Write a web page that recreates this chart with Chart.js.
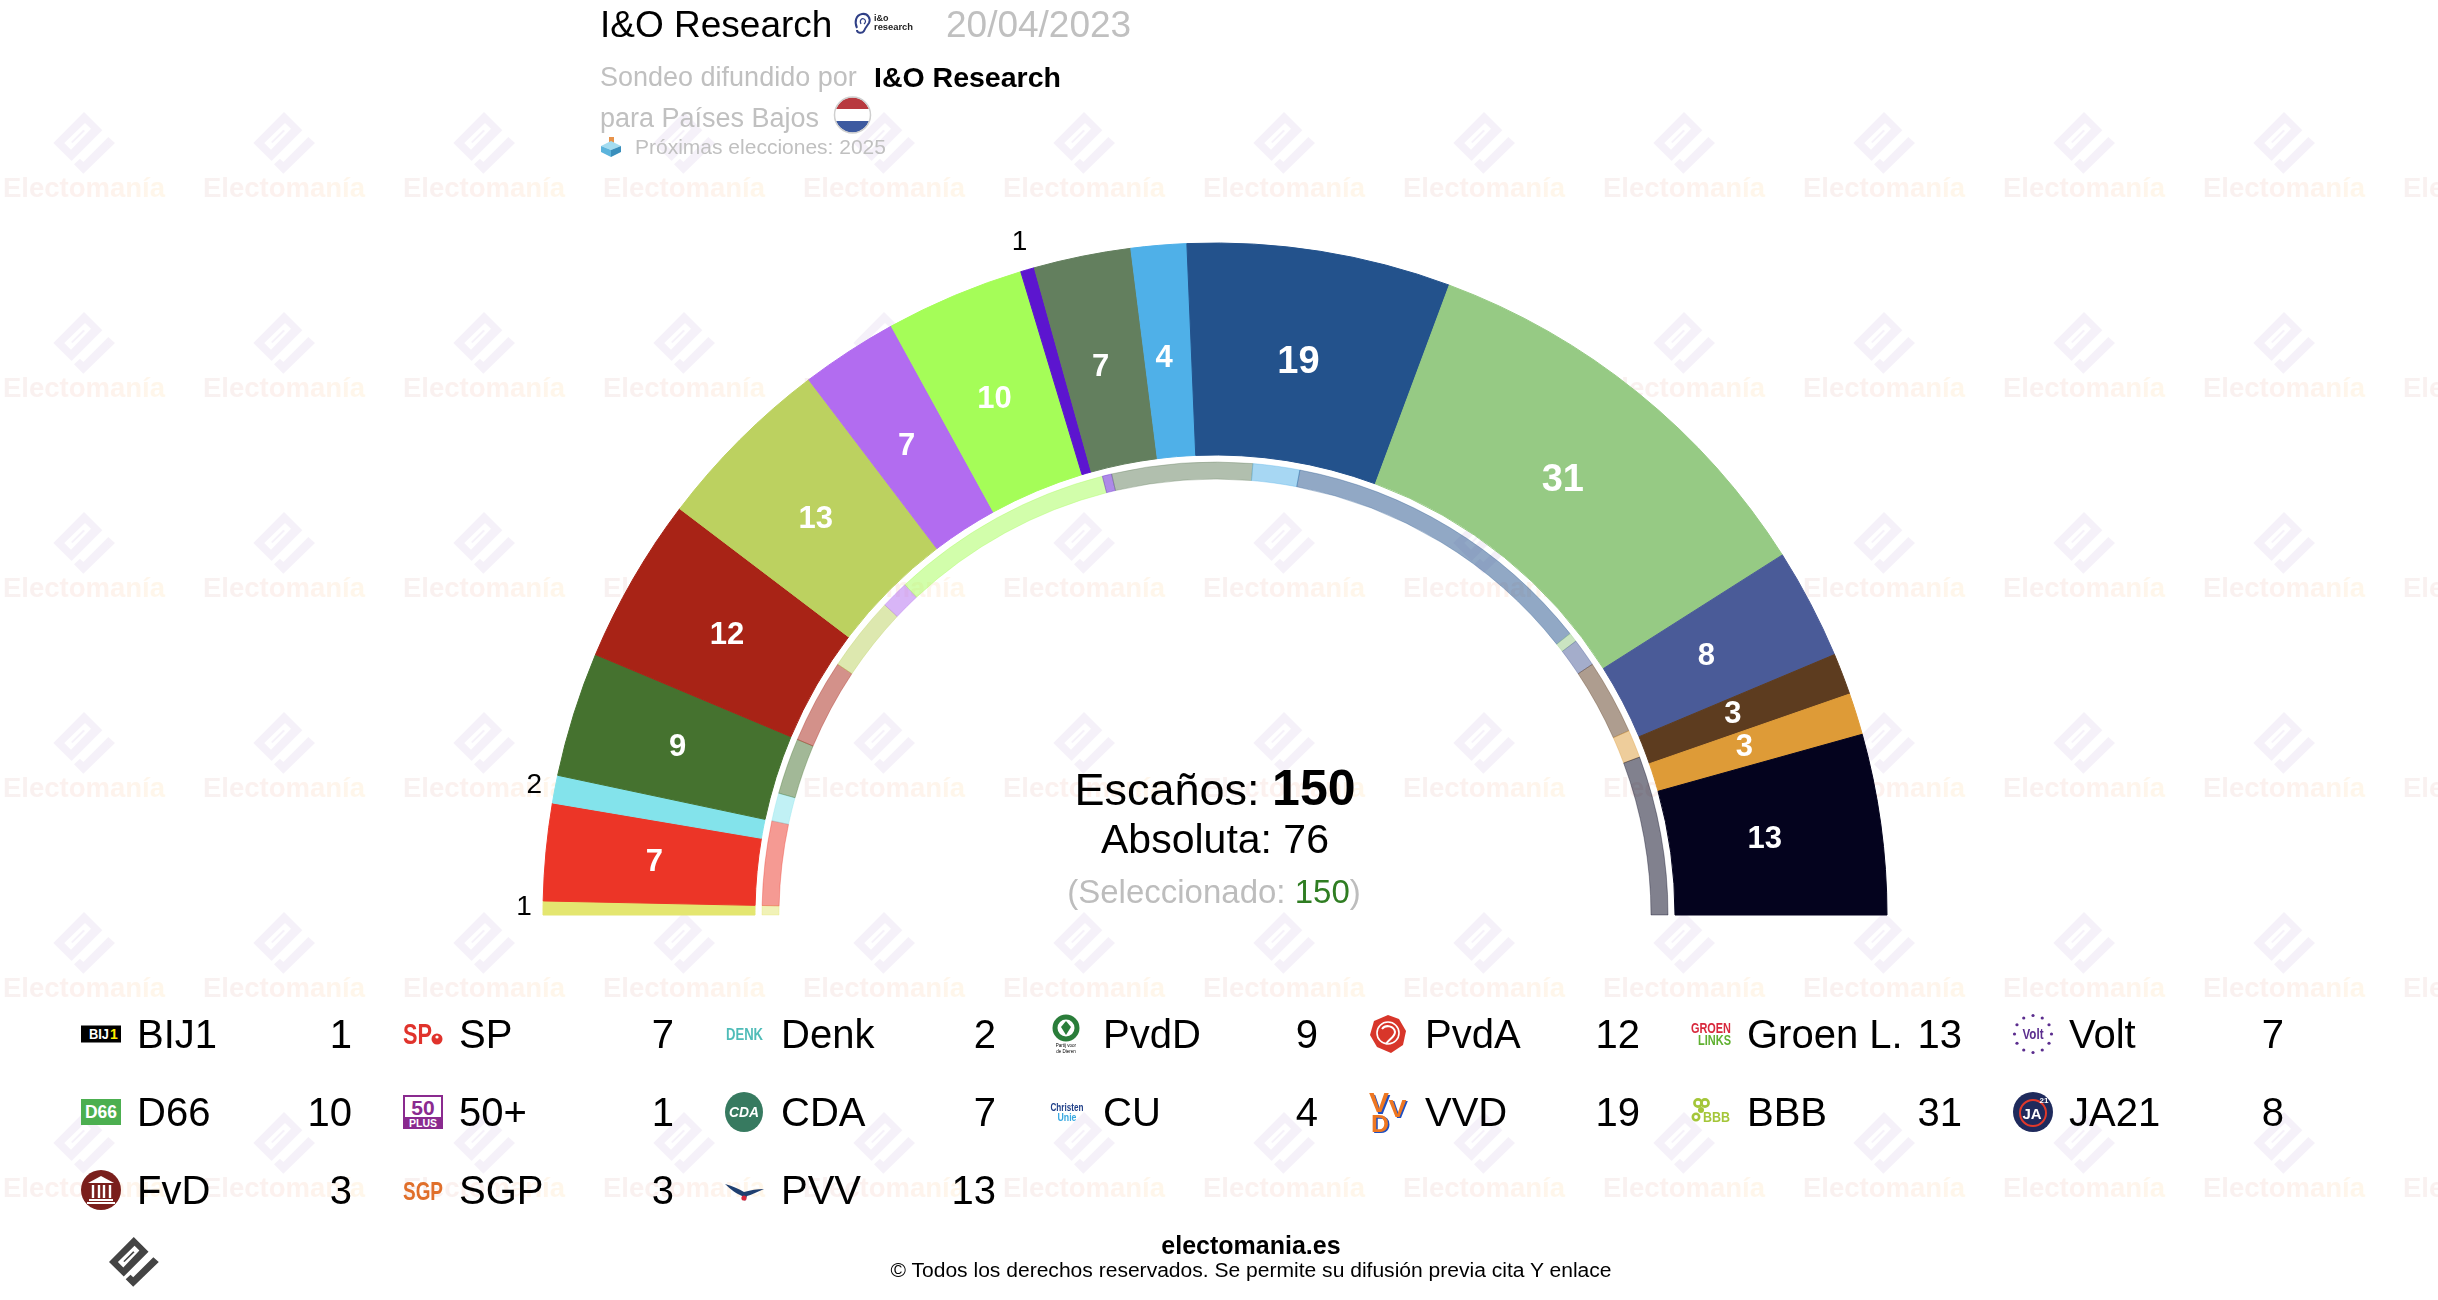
<!DOCTYPE html>
<html>
<head>
<meta charset="utf-8">
<title>I&amp;O Research 20/04/2023</title>
<script src="https://cdn.jsdelivr.net/npm/chart.js@4"></script>
<style>
    html, body { margin: 0; padding: 0; background: #fff; }
    body { position: relative; width: 2438px; height: 1300px; overflow: hidden; font-family: "Liberation Sans", Arial, sans-serif; }
    canvas { position: absolute; left: 0; top: 0; }
    .txt { position: absolute; white-space: nowrap; line-height: 1; color: #000; }
    .logo { position: absolute; overflow: visible; }
</style>
</head>
<body>
<canvas id="myChart" width="2438" height="1300"></canvas>
<div id="overlay"></div>
<script>
const parties = ['BIJ1', 'SP', 'Denk', 'PvdD', 'PvdA', 'Groen L.', 'Volt', 'D66', '50+', 'CDA', 'CU', 'VVD', 'BBB', 'JA21', 'FvD', 'SGP', 'PVV'];
const seats = [1, 7, 2, 9, 12, 13, 7, 10, 1, 7, 4, 19, 31, 8, 3, 3, 13];
const previousSeats = [1, 9, 3, 6, 9, 8, 3, 24, 1, 15, 5, 34, 1, 3, 8, 3, 17];
const partyColors = ['#e4e670', '#ec3527', '#83e3eb', '#45722f', '#a82316', '#bcd160', '#b26cf0', '#a5fd58', '#5c15cf', '#637f5e', '#4fb0e8', '#23528c', '#96ca84', '#4a5b98', '#5d3c1f', '#de9b37', '#04031e'];

const totalSeats = 150;
const majority = 76;
const selected = 150;

function faded(hex, alpha) {
    const n = parseInt(hex.slice(1), 16);
    return 'rgba(' + (n >> 16) + ',' + ((n >> 8) & 255) + ',' + (n & 255) + ',' + alpha + ')';
}

// electomania logo, drawn 62px wide
const logoPath = new Path2D(
    'M30.7 0L49 18.3L18.3 49L0 31ZM31.7 11L11 31L17.7 37.7L37.7 16.7Z' +
    'M30 17.7L31.7 19L19.3 31L17.7 30Z' +
    'M55 25L61.7 31L30 61.7L20.7 52.3L26.7 46.7L30 50Z');

const watermark = {
    id: 'watermark',
    beforeDraw(chart) {
        const c = chart.ctx;
        c.save();
        for (let row = 0; row < 6; row++) {
            for (let col = 0; col < 13; col++) {
                const x = 3 + col * 200;
                const y = 197 + row * 200;
                let g = c.createLinearGradient(x + 50, 0, x + 112, 0);
                g.addColorStop(0, '#f5f1f9');
                g.addColorStop(1, '#faf5ef');
                c.save();
                c.translate(x + 50.3, y - 85);
                c.fillStyle = g;
                c.fill(logoPath, 'evenodd');
                c.restore();
                g = c.createLinearGradient(x, 0, x + 162, 0);
                g.addColorStop(0, '#f8f1f1');
                g.addColorStop(0.5, '#fdf1ee');
                g.addColorStop(1, '#fff7ea');
                c.fillStyle = g;
                c.font = 'bold 27.5px "Liberation Sans"';
                c.fillText('Electomanía', x, y);
            }
        }
        c.restore();
    },
    afterDraw(chart) {
        const c = chart.ctx;
        c.save();
        c.translate(109, 1237);
        c.scale(50 / 62, 50 / 62);
        c.fillStyle = '#444444';
        c.fill(logoPath, 'evenodd');
        c.restore();
    }
};

const seatLabels = {
    id: 'seatLabels',
    afterDatasetsDraw(chart) {
        const c = chart.ctx;
        const arcs = chart.getDatasetMeta(0).data;
        c.save();
        c.textAlign = 'center';
        c.textBaseline = 'middle';
        arcs.forEach(function(arc, i) {
            const v = seats[i];
            const mid = (arc.startAngle + arc.endAngle) / 2;
            if (v <= 2) {
                const r = arc.outerRadius + 19 + 10 * Math.abs(Math.sin(mid));
                c.font = '28px "Liberation Sans"';
                c.fillStyle = '#000';
                c.fillText(String(v), arc.x + Math.cos(mid) * r, arc.y + Math.sin(mid) * r);
            } else {
                const r = (arc.innerRadius + arc.outerRadius) / 2 - 7;
                c.font = 'bold ' + (v >= 15 ? 38 : 31) + 'px "Liberation Sans"';
                c.fillStyle = '#fff';
                c.fillText(String(v), arc.x + Math.cos(mid) * r - 4, arc.y + Math.sin(mid) * r);
            }
        });
        c.restore();
    }
};

new Chart(document.getElementById('myChart').getContext('2d'), {
    type: 'doughnut',
    data: {
        labels: parties,
        datasets: [{
            data: seats,
            weight: 212,
            backgroundColor: partyColors,
            borderColor: partyColors,
            borderWidth: 1
        }, {
            data: previousSeats,
            weight: 7,
            backgroundColor: 'rgba(0,0,0,0)',
            borderWidth: 0
        }, {
            data: previousSeats,
            weight: 17,
            backgroundColor: partyColors.map(function(col) { return faded(col, 0.5); }),
            borderColor: partyColors.map(function(col) { return faded(col, 0.35); }),
            borderWidth: 1
        }]
    },
    options: {
        responsive: false,
        animation: false,
        rotation: -90,
        circumference: 180,
        cutout: '64.881%',
        layout: { padding: { left: 542.5, right: 550.5, top: 242.5, bottom: 384.5 } },
        plugins: { legend: { display: false }, tooltip: { enabled: false } }
    },
    plugins: [watermark, seatLabels]
});

// html text and logos on top of the canvas
const overlay = document.getElementById('overlay');

function addText(html, x, baseline, size, extra) {
    const el = document.createElement('div');
    el.className = 'txt';
    el.innerHTML = html;
    el.style.top = (baseline - size * 0.8465) + 'px';
    el.style.fontSize = size + 'px';
    if (extra && extra.right !== undefined) el.style.right = (2438 - extra.right) + 'px';
    else if (extra && extra.center) { el.style.left = x + 'px'; el.style.transform = 'translateX(-50%)'; }
    else el.style.left = x + 'px';
    if (extra && extra.color) el.style.color = extra.color;
    if (extra && extra.bold) el.style.fontWeight = 'bold';
    overlay.appendChild(el);
    return el;
}

function addSvg(inner, x, y, w, h) {
    const box = document.createElement('div');
    box.innerHTML = '<svg class="logo" xmlns="http://www.w3.org/2000/svg" width="' + w + '" height="' + h + '" viewBox="0 0 ' + w + ' ' + h +
        '" style="left:' + x + 'px;top:' + y + 'px" font-family="Liberation Sans" font-weight="bold">' + inner + '</svg>';
    overlay.appendChild(box);
}

function voltStars() {
    let s = '';
    for (let k = 0; k < 12; k++) {
        const a = k * Math.PI / 6;
        s += '<circle cx="' + (20 + Math.cos(a) * 18.5) + '" cy="' + (31 + Math.sin(a) * 18.5) + '" r="1.6" fill="#5b2d8e"/>';
    }
    return s;
}

const logos = {
    'BIJ1': '<rect y="22.5" width="40" height="17" fill="#000"/><text x="8" y="36" font-size="14" fill="#fff" textLength="20" lengthAdjust="spacingAndGlyphs">BIJ</text><text x="29" y="36" font-size="14" fill="#ffee00">1</text>',
    'SP': '<text x="0" y="41" font-size="29" fill="#e0332c" textLength="29" lengthAdjust="spacingAndGlyphs">SP</text><circle cx="34" cy="36" r="5.5" fill="#e0332c"/><circle cx="34" cy="34" r="1.6" fill="#fff"/>',
    'Denk': '<text x="1" y="36.5" font-size="16" fill="#4fbcb8" textLength="37" lengthAdjust="spacingAndGlyphs">DENK</text>',
    'PvdD': '<circle cx="19" cy="25" r="11" fill="none" stroke="#2a7d3a" stroke-width="5"/><path d="M19 18L24 24L19 32L14 24Z" fill="#2a7d3a"/><text x="19" y="44" font-size="4.5" font-weight="normal" text-anchor="middle">Partij voor</text><text x="19" y="50" font-size="4.5" font-weight="normal" text-anchor="middle">de Dieren</text>',
    'PvdA': '<path d="M19 12L30 16L37 28L34 42L22 50L8 44L1 32L5 18Z" fill="#d8362a"/><circle cx="19" cy="30" r="11" fill="none" stroke="#fff" stroke-width="1.6"/><path d="M13 26C17 21 25 23 26 29C26 34 20 36 17 41" fill="none" stroke="#fff" stroke-width="2"/>',
    'Groen L.': '<text x="0" y="30" font-size="15" fill="#d8283c" textLength="40" lengthAdjust="spacingAndGlyphs">GROEN</text><text x="7" y="42" font-size="15" fill="#5fb030" textLength="33" lengthAdjust="spacingAndGlyphs">LINKS</text>',
    'Volt': voltStars() + '<text x="20" y="36" font-size="15" fill="#5b2d8e" text-anchor="middle" textLength="21" lengthAdjust="spacingAndGlyphs">Volt</text>',
    'D66': '<rect y="18" width="40" height="26" fill="#4caf50"/><text x="20" y="37" font-size="18" fill="#fff" text-anchor="middle" textLength="32" lengthAdjust="spacingAndGlyphs">D66</text>',
    '50+': '<rect y="14" width="40" height="34" fill="#8a2a8f"/><rect x="2" y="16" width="36" height="20" fill="#fff"/><text x="20" y="34" font-size="21" fill="#8a2a8f" text-anchor="middle">50</text><text x="20" y="46" font-size="10" fill="#fff" text-anchor="middle" textLength="28" lengthAdjust="spacingAndGlyphs">PLUS</text>',
    'CDA': '<ellipse cx="19" cy="31" rx="19" ry="20" fill="#377a60"/><text x="19" y="36" font-size="14" font-style="italic" fill="#fff" text-anchor="middle" textLength="30" lengthAdjust="spacingAndGlyphs">CDA</text>',
    'CU': '<text x="20" y="30" font-size="10.5" fill="#1f3f88" text-anchor="middle" textLength="33" lengthAdjust="spacingAndGlyphs">Christen</text><text x="20" y="39.5" font-size="10.5" fill="#38a8e0" text-anchor="middle" textLength="19" lengthAdjust="spacingAndGlyphs">Unie</text>',
    'VVD': '<g fill="#1f4fc0"><text x="1.5" y="32.5" font-size="28" textLength="20" lengthAdjust="spacingAndGlyphs">V</text><text x="21" y="37" font-size="24" textLength="18" lengthAdjust="spacingAndGlyphs">V</text><text x="3.5" y="52" font-size="24" textLength="18" lengthAdjust="spacingAndGlyphs">D</text></g><g fill="#ee7722"><text x="0" y="31" font-size="28" textLength="20" lengthAdjust="spacingAndGlyphs">V</text><text x="19.5" y="36" font-size="24" textLength="18" lengthAdjust="spacingAndGlyphs">V</text><text x="2" y="50.5" font-size="24" textLength="18" lengthAdjust="spacingAndGlyphs">D</text></g>',
    'BBB': '<g fill="none" stroke="#a4c639" stroke-width="2.6"><circle cx="7" cy="22" r="3.6"/><circle cx="14" cy="22" r="3.6"/><circle cx="5" cy="36" r="3.2"/></g><circle cx="10" cy="29" r="3" fill="#a4c639"/><text x="12" y="41" font-size="14" fill="#a4c639" textLength="27" lengthAdjust="spacingAndGlyphs">BBB</text>',
    'JA21': '<ellipse cx="20" cy="31" rx="20" ry="20" fill="#1f2a5c"/><circle cx="20" cy="32" r="13" fill="none" stroke="#e0392b" stroke-width="2"/><text x="19" y="38" font-size="15" fill="#fff" text-anchor="middle">JA</text><text x="31" y="22" font-size="8" fill="#fff" text-anchor="middle">21</text>',
    'FvD': '<ellipse cx="20" cy="31" rx="20" ry="20" fill="#7a1f1c"/><path d="M20 17L33 24H7Z" fill="#fff"/><g stroke="#fff" stroke-width="2.4"><path d="M12 26V39M18 26V39M23 26V39M29 26V39"/></g><rect x="8" y="40" width="24" height="2" fill="#fff"/><rect x="6" y="43" width="28" height="2" fill="#fff"/>',
    'SGP': '<text x="0" y="41" font-size="25" fill="#e06f2a" textLength="40" lengthAdjust="spacingAndGlyphs">SGP</text>',
    'PVV': '<path d="M0 25C8 27 14 30 19 33C26 31 32 30 39 30C32 33 26 36 22 37L20 42L17 37C12 35 5 30 0 25Z" fill="#1f3f70"/><circle cx="19" cy="39" r="2.6" fill="#d8283c"/>'
};

// column and row steps of the party list
parties.forEach(function(name, i) {
    const col = i % 7;
    const row = Math.floor(i / 7);
    const x = 81 + col * 322;
    const y = 1034 + row * 78;
    addSvg(logos[name], x, y - 31, 40, 62);
    addText(name, x + 56, y + 14, 40);
    addText(String(seats[i]), 0, y + 14, 40, { right: x + 271 });
});

// header
addText('I&amp;O Research', 600, 37, 37);
addSvg('<path d="M4 15C1 9 3 2 9 1C15 0 18 6 16 10C14 13 12 15 11 18C9 21 4 20 4 17" fill="none" stroke="#2f3f86" stroke-width="2"/><path d="M8 11C6 7 9 5 11 6C13 7 13 9 11 11" fill="none" stroke="#2f3f86" stroke-width="1.2"/><text x="21" y="8" font-size="9" fill="#222">i&amp;o</text><text x="21" y="17" font-size="9" fill="#222" textLength="39" lengthAdjust="spacingAndGlyphs">research</text>', 853, 13, 60, 22);
addText('20/04/2023', 946, 37, 37, { color: '#c0c0c0' });
addText('Sondeo difundido por', 600, 87, 27, { color: '#c0c0c0' });
addText('I&amp;O Research', 874, 87, 28.5, { bold: true });
addText('para Países Bajos', 600, 128, 27, { color: '#c0c0c0' });
addSvg('<defs><clipPath id="flagClip"><circle cx="19.5" cy="19" r="17.5"/></clipPath></defs><g clip-path="url(#flagClip)"><rect width="40" height="13" fill="#b8393f"/><rect y="13" width="40" height="12" fill="#fff"/><rect y="25" width="40" height="14" fill="#3d5aa0"/></g><circle cx="19.5" cy="19" r="18" fill="none" stroke="#cfcfcf" stroke-width="1.5"/>', 833, 96, 39, 38);
addSvg('<rect x="8" y="0" width="5" height="8" fill="#e8934a"/><path d="M10 4L20 9L10 13L0 9Z" fill="#a4dcf0"/><path d="M0 9L10 13V20L0 15Z" fill="#5cb4dc"/><path d="M20 9L10 13V20L20 15Z" fill="#3a8fbc"/>', 601, 137, 20, 20);
addText('Próximas elecciones: 2025', 635, 154, 21, { color: '#c0c0c0' });

// centre of the hemicycle
addText('Escaños: <b style="font-size:50px">' + totalSeats + '</b>', 1215, 801, 45, { center: true });
addText('Absoluta: ' + majority, 1215, 854, 41, { center: true });
addText('(Seleccionado: <span style="color:#2f7d22">' + selected + '</span>)', 1214, 903, 33, { center: true, color: '#bdbdbd' });

// footer
addText('electomania.es', 1251, 1254, 25, { center: true, bold: true });
addText('© Todos los derechos reservados. Se permite su difusión previa cita Y enlace', 1251, 1277, 21.05, { center: true });
</script>
</body>
</html>
